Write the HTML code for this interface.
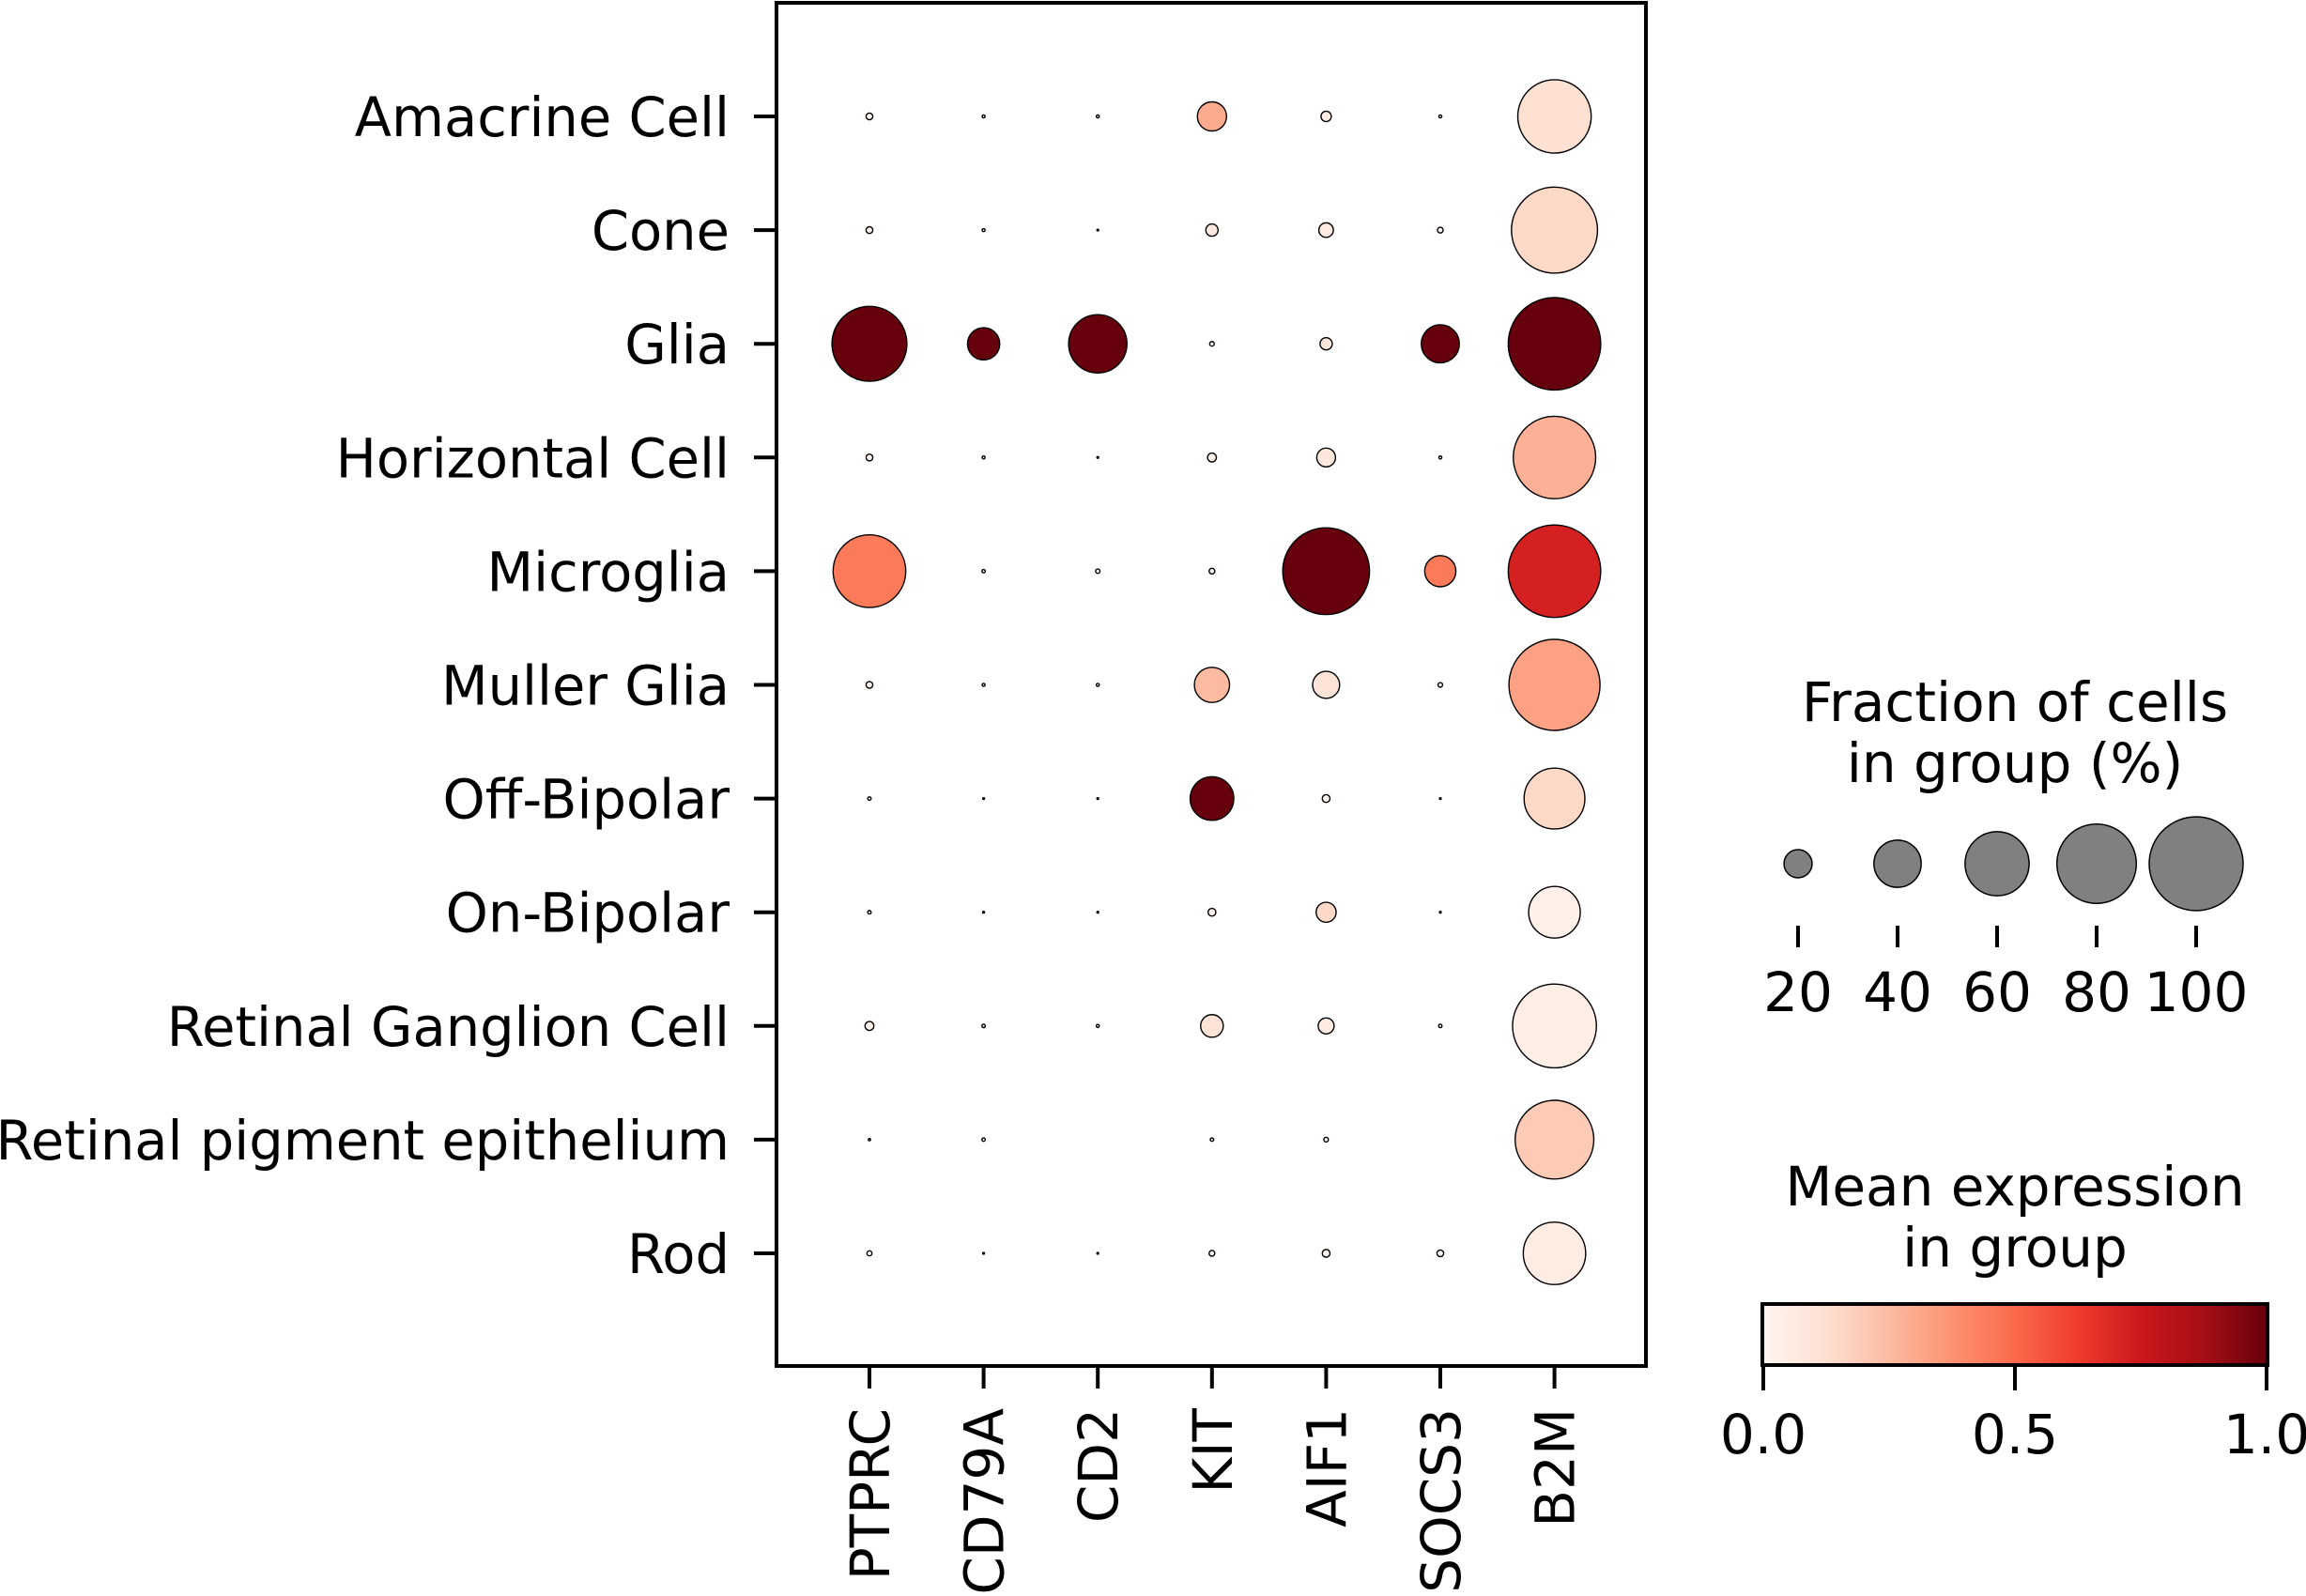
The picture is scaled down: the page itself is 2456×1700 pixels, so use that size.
<!DOCTYPE html>
<html><head><meta charset="utf-8"><style>
html,body{margin:0;padding:0;background:#fff;}
svg{display:block;font-family:"DejaVu Sans","Liberation Sans",sans-serif;}
</style></head><body>
<svg id="chart" width="2456" height="1700" viewBox="0 0 2456 1700" xmlns="http://www.w3.org/2000/svg">
<defs><linearGradient id="reds" x1="0" x2="1" y1="0" y2="0">
<stop offset="0" stop-color="#fff5f0"/><stop offset="0.125" stop-color="#fee0d2"/><stop offset="0.25" stop-color="#fcbba1"/><stop offset="0.375" stop-color="#fc9272"/><stop offset="0.5" stop-color="#fb6a4a"/><stop offset="0.625" stop-color="#ef3b2c"/><stop offset="0.75" stop-color="#cb181d"/><stop offset="0.875" stop-color="#a50f15"/><stop offset="1" stop-color="#67000d"/>
</linearGradient></defs>
<g id="dots"></g>
<rect x="827" y="3" width="926" height="1452" fill="none" stroke="#000" stroke-width="4"/>
<g id="yaxis"></g>
<g id="xaxis"></g>
<g>
<text x="2146" y="768" font-size="58" text-anchor="middle">Fraction of cells</text>
<text x="2146" y="833" font-size="58" text-anchor="middle">in group (%)</text>
<g id="sizeleg"></g>
</g>
<g>
<text x="2146" y="1284" font-size="58" text-anchor="middle">Mean expression</text>
<text x="2146" y="1349" font-size="58" text-anchor="middle">in group</text>
<rect x="1877" y="1389" width="538" height="65" fill="url(#reds)" stroke="#000" stroke-width="4"/>
<g id="cbticks"></g>
</g>
</svg>
<script>
const genes = ["PTPRC","CD79A","CD2","KIT","AIF1","SOCS3","B2M"];
const groups = ["Amacrine Cell","Cone","Glia","Horizontal Cell","Microglia","Muller Glia","Off-Bipolar","On-Bipolar","Retinal Ganglion Cell","Retinal pigment epithelium","Rod"];
const fractions = [
 [0.03,0.01,0.01,0.21,0.053,0.01,0.72],
 [0.03,0.01,0.005,0.066,0.083,0.024,0.89],
 [0.74,0.24,0.53,0.018,0.066,0.30,0.98],
 [0.03,0.01,0.005,0.043,0.117,0.01,0.84],
 [0.71,0.012,0.017,0.024,0.90,0.23,0.98],
 [0.03,0.01,0.01,0.27,0.19,0.018,0.96],
 [0.012,0.005,0.005,0.36,0.036,0.005,0.56],
 [0.012,0.005,0.005,0.036,0.127,0.005,0.45],
 [0.043,0.012,0.01,0.15,0.094,0.012,0.86],
 [0.007,0.012,0,0.012,0.018,0,0.79],
 [0.02,0.005,0.005,0.024,0.036,0.03,0.58]
];
const expression = [
 [0,0,0,0.30,0.05,0,0.12],
 [0.02,0,0,0.08,0.06,0,0.15],
 [1,1,1,0,0.08,1,1],
 [0.02,0,0,0.02,0.08,0,0.28],
 [0.45,0,0,0,1,0.45,0.72],
 [0.02,0,0,0.25,0.10,0,0.33],
 [0,0,0,1,0,0,0.15],
 [0,0,0,0.02,0.15,0,0.03],
 [0.02,0,0,0.10,0.06,0,0.04],
 [0,0,0,0,0,0,0.20],
 [0,0,0,0,0,0,0.05]
];
const legendFractions = [20,40,60,80,100];
const colorTicks = [0.0,0.5,1.0];

const NS="http://www.w3.org/2000/svg";
function mk(tag,attrs,parent){const e=document.createElementNS(NS,tag);for(const k in attrs)e.setAttribute(k,attrs[k]);parent.appendChild(e);return e;}
const X0=926, DX=121.6, Y0=124, DY=121.1, DMAX=100;
const xPos=i=>X0+i*DX, yPos=j=>Y0+j*DY;
const diam=f=>DMAX*Math.pow(Math.max(f,0),0.75);
const stops=[[255,245,240],[254,224,210],[252,187,161],[252,146,114],[251,106,74],[239,59,44],[203,24,29],[165,15,21],[103,0,13]];
function cmap(v){v=Math.min(1,Math.max(0,v));const t=v*8,i=Math.min(7,Math.floor(t)),f=t-i;const a=stops[i],b=stops[i+1];return `rgb(${a.map((c,k)=>Math.round(c+(b[k]-c)*f)).join(',')})`;}

const dots=document.getElementById('dots');
groups.forEach((g,j)=>{genes.forEach((ge,i)=>{
  const d=diam(fractions[j][i]); if(d<=0.5) return;
  const c=mk('circle',{cx:xPos(i),cy:yPos(j),r:d/2,fill:cmap(expression[j][i]),stroke:'#000','stroke-width':1.4},dots);
  
  
});});

const ya=document.getElementById('yaxis');
groups.forEach((g,j)=>{
  const l=mk('line',{x1:803,x2:827,y1:yPos(j),y2:yPos(j),stroke:'#000','stroke-width':4},ya);
   
  const t=mk('text',{x:777,y:yPos(j)+21,'font-size':57.5,'text-anchor':'end'},ya); t.textContent=g;
   
});
const xa=document.getElementById('xaxis');
genes.forEach((ge,i)=>{
  const l=mk('line',{x1:xPos(i),x2:xPos(i),y1:1455,y2:1479,stroke:'#000','stroke-width':4},xa);
   
  const t=mk('text',{x:0,y:0,'font-size':58,'text-anchor':'end',transform:`translate(${xPos(i)+21},1500) rotate(-90)`},xa); t.textContent=ge;
   
});
const sl=document.getElementById('sizeleg');
legendFractions.forEach((p,k)=>{
  const x=1915+k*106;
  const c=mk('circle',{cx:x,cy:920,r:diam(p/100)/2,fill:'#808080',stroke:'#000','stroke-width':1.5},sl);
   
  const l=mk('line',{x1:x,x2:x,y1:986,y2:1009,stroke:'#000','stroke-width':4},sl);
   
  const t=mk('text',{x:x,y:1077,'font-size':58,'text-anchor':'middle'},sl); t.textContent=p;
   
});
const cb=document.getElementById('cbticks');
colorTicks.forEach(v=>{
  const x=1878+v*536;
  const l=mk('line',{x1:x,x2:x,y1:1454,y2:1481,stroke:'#000','stroke-width':4},cb);
   
  const t=mk('text',{x:x,y:1548,'font-size':58,'text-anchor':'middle'},cb); t.textContent=v.toFixed(1);
   
});
</script>
</body></html>
